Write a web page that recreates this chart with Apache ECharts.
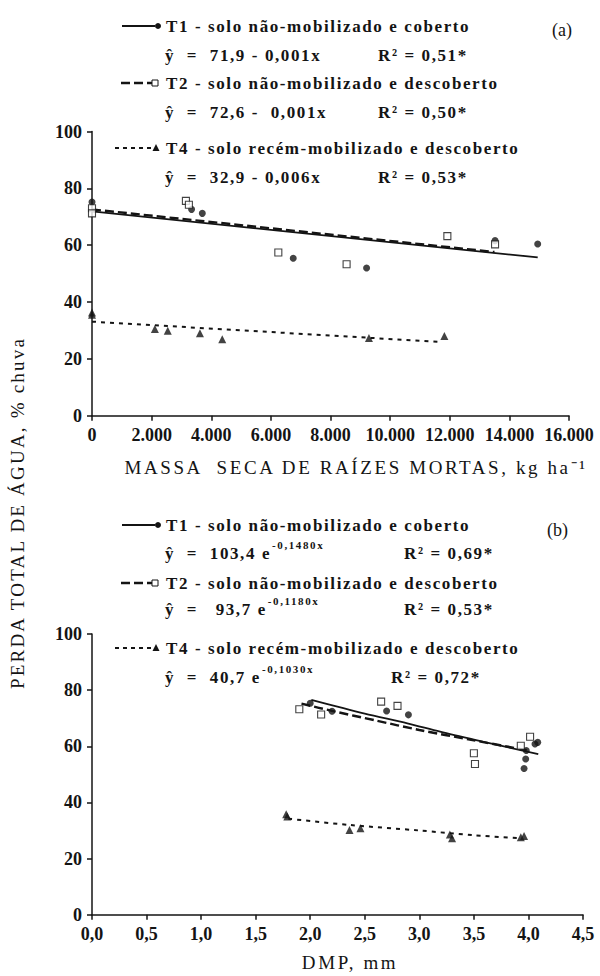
<!DOCTYPE html>
<html>
<head>
<meta charset="utf-8">
<script src="https://cdn.jsdelivr.net/npm/echarts@6/dist/echarts.min.js"></script>
<style>
html, body { margin: 0; padding: 0; background: #fff; }
#chart { width: 600px; height: 976px; }
#chart text { white-space: pre; }
#chart text[style*="lsa"] { letter-spacing: 1.6px; }
#chart text[style*="lsb"] { letter-spacing: 2.6px; }
#chart text[style*="lsc"] { letter-spacing: 2.2px; }
</style>
</head>
<body>
<div id="chart"></div>
<script>
// (a) perda de água x massa seca de raízes mortas (kg/ha)
const massaT1 = [[0, 75.2], [3340, 72.6], [3700, 71.2], [6750, 55.4], [9210, 52.0], [13520, 61.6], [14950, 60.4]];
const massaT2 = [[0, 73.0], [0, 71.2], [3150, 75.6], [3250, 74.2], [6250, 57.4], [8540, 53.3], [11920, 63.2], [13520, 60.3]];
const massaT4 = [[0, 35.5], [0, 36.3], [2110, 30.5], [2540, 29.9], [3620, 29.0], [4370, 26.9], [9290, 27.3], [11820, 28.0]];
// retas ajustadas
const massaFitT1 = [[0, 71.9], [14950, 55.7]];
const massaFitT2 = [[0, 72.6], [13500, 57.6]];
const massaFitT4 = [[0, 33.1], [11600, 26.0]];

// (b) perda de água x DMP (mm)
const dmpT1 = [[2.00, 75.3], [2.20, 72.5], [2.70, 72.6], [2.90, 71.2], [3.96, 52.1], [3.975, 55.5], [3.98, 58.5], [4.06, 60.8], [4.085, 61.4]];
const dmpT2 = [[1.90, 73.2], [2.10, 71.3], [2.65, 75.9], [2.80, 74.4], [3.50, 57.5], [3.51, 53.7], [3.93, 60.2], [4.015, 63.4]];
const dmpT4 = [[1.78, 35.8], [1.79, 35.0], [2.36, 30.2], [2.46, 30.8], [3.28, 28.6], [3.30, 27.2], [3.93, 27.6], [3.96, 28.0]];
// curvas ajustadas
const dmpFitT1 = [[2.01, 76.5], [2.5, 71.6], [2.89, 68.2], [3.19, 65.2], [3.59, 61.6], [4.09, 57.2]];
const dmpFitT2 = [[1.92, 75.2], [2.2, 72.6], [2.6, 69.2], [3.0, 65.8], [3.5, 62.1], [4.0, 58.5]];
const dmpFitT4 = [[1.80, 34.2], [2.35, 32.0], [3.0, 30.0], [3.5, 28.3], [3.93, 27.2]];

// textos
const legendNames = [
  'T1 - solo não-mobilizado e coberto',
  'T2 - solo não-mobilizado e descoberto',
  'T4 - solo recém-mobilizado e descoberto'
];
const eqMassa = ['ŷ  =  71,9 - 0,001x', 'ŷ  =  72,6 -  0,001x', 'ŷ  =  32,9 - 0,006x'];
const r2Massa = ['R² = 0,51*', 'R² = 0,50*', 'R² = 0,53*'];
const eqDmp = ['ŷ  =  103,4 e', 'ŷ  =   93,7 e', 'ŷ  =  40,7 e'];
const expDmp = ['-0,1480x', '-0,1180x', '-0,1030x'];
const r2Dmp = ['R² = 0,69*', 'R² = 0,53*', 'R² = 0,72*'];

const INK = '#141414';
const SERIF = 'Liberation Serif';
const fontLeg = 'bold 17px Liberation Serif, lsa';
const fontSup = 'bold 11px Liberation Serif, lsa';

const measure = document.createElement('canvas').getContext('2d');
function textEnd(str, font, x, sp) {
  measure.font = font;
  return x + measure.measureText(str).width + sp * str.length;
}

function txt(x, y, text, font, align) {
  return {
    type: 'text', x: x, y: y, silent: true,
    style: { text: text, font: font, fill: INK, align: align || 'left', verticalAlign: 'middle' }
  };
}

// ícones da legenda: linha + símbolo
function legendIcon(kind, y) {
  const els = [];
  if (kind === 0) {
    els.push({ type: 'line', shape: { x1: 122, y1: y, x2: 155, y2: y }, style: { stroke: INK, lineWidth: 1.8 } });
    els.push({ type: 'circle', shape: { cx: 158, cy: y, r: 3 }, style: { fill: INK } });
  } else if (kind === 1) {
    els.push({ type: 'line', shape: { x1: 121, y1: y, x2: 152, y2: y }, style: { stroke: INK, lineWidth: 2.4, lineDash: [9, 4] } });
    els.push({ type: 'rect', shape: { x: 152, y: y - 3, width: 6, height: 6 }, style: { fill: '#fff', stroke: INK, lineWidth: 1 } });
  } else {
    els.push({ type: 'line', shape: { x1: 115, y1: y, x2: 152, y2: y }, style: { stroke: INK, lineWidth: 2, lineDash: [4, 4] } });
    els.push({ type: 'polygon', shape: { points: [[156, y - 4], [159.5, y + 3], [152.5, y + 3]] }, style: { fill: INK } });
  }
  return els;
}

const graphic = [];
// painel (a)
const rowsA = [26, 55, 83, 112, 148, 177];
for (let i = 0; i < 3; i++) {
  graphic.push(...legendIcon(i, rowsA[i * 2]));
  graphic.push(txt(166, rowsA[i * 2], legendNames[i], fontLeg));
  graphic.push(txt(165, rowsA[i * 2 + 1], eqMassa[i], fontLeg));
  graphic.push(txt(378, rowsA[i * 2 + 1], r2Massa[i], fontLeg));
}
graphic.push(txt(552, 30, '(a)', '18px ' + SERIF));
// painel (b)
const rowsB = [525, 553, 583, 609, 648, 677];
const r2X = [404, 404, 391];
for (let i = 0; i < 3; i++) {
  graphic.push(...legendIcon(i, rowsB[i * 2]));
  graphic.push(txt(166, rowsB[i * 2], legendNames[i], fontLeg));
  graphic.push(txt(165, rowsB[i * 2 + 1], eqDmp[i], fontLeg));
  graphic.push(txt(textEnd(eqDmp[i], 'bold 17px Liberation Serif', 165, 1.6) + 1, rowsB[i * 2 + 1] - 8, expDmp[i], fontSup));
  graphic.push(txt(r2X[i], rowsB[i * 2 + 1], r2Dmp[i], fontLeg));
}
graphic.push(txt(547, 530, '(b)', '18px ' + SERIF));

// títulos dos eixos
graphic.push(txt(356, 467, 'MASSA  SECA DE RAÍZES MORTAS, kg ha⁻¹', '19px Liberation Serif, lsb', 'center'));
graphic.push(txt(350, 962, 'DMP, mm', '19px Liberation Serif, lsb', 'center'));
graphic.push({
  type: 'text', x: 17, y: 513, rotation: Math.PI / 2, silent: true,
  style: { text: 'PERDA TOTAL DE ÁGUA, % chuva', font: '19px Liberation Serif, lsc', fill: INK, align: 'center', verticalAlign: 'middle' }
});

const axisLine = { show: true, onZero: false, lineStyle: { color: INK, width: 1.5 } };
const axisTick = { show: true, length: 5, lineStyle: { color: INK, width: 1.5 } };
const labelBase = { color: INK, fontFamily: SERIF, fontWeight: 'bold', fontSize: 18, margin: 10 };

function yAxisCfg(gridIndex) {
  return {
    type: 'value', gridIndex: gridIndex, min: 0, max: 100, interval: 20,
    axisLine: axisLine, axisTick: axisTick, splitLine: { show: false },
    axisLabel: labelBase
  };
}

function scatter(data, kind, axis) {
  const s = { type: 'scatter', data: data, xAxisIndex: axis, yAxisIndex: axis, z: 3, silent: true };
  if (kind === 0) {
    s.symbol = 'circle'; s.symbolSize = 7; s.itemStyle = { color: INK };
  } else if (kind === 1) {
    s.symbol = 'rect'; s.symbolSize = 7; s.itemStyle = { color: '#fff', borderColor: INK, borderWidth: 1.1 };
  } else {
    s.symbol = 'triangle'; s.symbolSize = 8; s.itemStyle = { color: INK };
  }
  return s;
}

function fit(data, kind, axis, smooth) {
  const styles = [
    { color: INK, width: 1.8, type: 'solid' },
    { color: INK, width: 2.4, type: [9, 4] },
    { color: INK, width: 2, type: [4, 5] }
  ];
  return {
    type: 'line', data: data, xAxisIndex: axis, yAxisIndex: axis, z: 2, silent: true,
    showSymbol: false, symbol: 'none', smooth: smooth ? 0.3 : false,
    lineStyle: styles[kind]
  };
}

const chart = echarts.init(document.getElementById('chart'), null, { renderer: 'svg' });
chart.setOption({
  animation: false,
  backgroundColor: '#fff',
  grid: [
    { left: 92, width: 477, top: 131.5, height: 284.2 },
    { left: 92, width: 491, top: 634, height: 280.7 }
  ],
  xAxis: [
    {
      type: 'value', gridIndex: 0, min: 0, max: 16000, interval: 2000,
      axisLine: axisLine, axisTick: axisTick, splitLine: { show: false },
      axisLabel: Object.assign({}, labelBase, {
        formatter: v => v === 0 ? '0' : (v / 1000).toFixed(3)
      })
    },
    {
      type: 'value', gridIndex: 1, min: 0, max: 4.5, interval: 0.5,
      axisLine: axisLine, axisTick: axisTick, splitLine: { show: false },
      axisLabel: Object.assign({}, labelBase, {
        formatter: v => v.toFixed(1).replace('.', ',')
      })
    }
  ],
  yAxis: [yAxisCfg(0), yAxisCfg(1)],
  graphic: graphic,
  series: [
    fit(massaFitT1, 0, 0, false),
    fit(massaFitT2, 1, 0, false),
    fit(massaFitT4, 2, 0, false),
    scatter(massaT1, 0, 0),
    scatter(massaT2, 1, 0),
    scatter(massaT4, 2, 0),
    fit(dmpFitT1, 0, 1, true),
    fit(dmpFitT2, 1, 1, true),
    fit(dmpFitT4, 2, 1, true),
    scatter(dmpT1, 0, 1),
    scatter(dmpT2, 1, 1),
    scatter(dmpT4, 2, 1)
  ]
});
</script>
</body>
</html>
